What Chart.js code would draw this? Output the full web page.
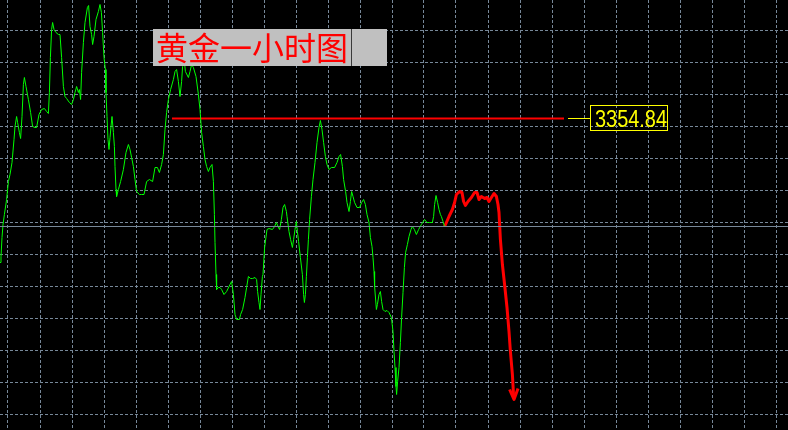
<!DOCTYPE html>
<html>
<head>
<meta charset="utf-8">
<title>黄金一小时图</title>
<script src="https://cdn.jsdelivr.net/npm/chart.js@4.4.1/dist/chart.umd.min.js"></script>
<style>
    html, body { margin: 0; padding: 0; background: #000; }
    canvas { display: block; }
</style>
</head>
<body>
<canvas id="goldChart" width="788" height="430"></canvas>
<script>
// Chart title and the marked resistance level
const chartTitle = "黄金一小时图";
const levelPrice = 3354.84;
const bidPrice = 3300.84;

// Visible window: bars (hours) on x, price on y
const barRange = [0, 394];
const priceRange = [3199.09, 3414.09];

// Hourly close line: [bar, price]
const goldHistory = [
    [0, 3282.84], [0.5, 3285.84], [1, 3295.34], [1.5, 3301.84], [2.2, 3306.84],
    [3.3, 3314.34], [4.2, 3323.34], [5, 3326.84], [6, 3332.84], [7, 3344.34],
    [7.5, 3350.84], [8.3, 3355.84], [8.8, 3352.84], [9.7, 3347.84], [10.3, 3344.84],
    [11, 3355.84], [11.7, 3371.84], [12.2, 3375.34], [13, 3370.84], [14.2, 3364.34],
    [15.3, 3357.84], [16.3, 3350.84], [17.5, 3350.34], [18.3, 3350.34], [19.5, 3356.84],
    [20.8, 3359.34], [22.2, 3359.84], [23.3, 3358.34], [24.2, 3357.34], [24.7, 3367.84],
    [25.2, 3385.34], [25.8, 3399.34], [26.3, 3402.84], [27, 3399.34], [28, 3397.84],
    [29.2, 3396.84], [30, 3396.84], [30.8, 3385.34], [31.7, 3370.84], [32.5, 3365.84],
    [33.3, 3364.84], [34.7, 3362.84], [35.8, 3361.84], [36.7, 3364.34], [37.5, 3367.84],
    [38.3, 3370.84], [39.2, 3367.84], [39.7, 3369.34], [40.3, 3364.34], [40.8, 3377.84],
    [41.7, 3392.84], [42.5, 3402.84], [43.7, 3410.34], [44.3, 3411.34], [45, 3400.84],
    [45.8, 3396.84], [46.3, 3391.84], [47, 3395.84], [48, 3404.34], [49.2, 3408.34],
    [50, 3411.84], [50.7, 3407.84], [51.3, 3397.84], [52, 3385.34], [52.7, 3379.34],
    [53, 3367.84], [53.5, 3355.84], [54, 3344.34], [54.5, 3339.34], [55, 3345.34],
    [55.5, 3350.84], [56, 3355.84], [56.7, 3347.84], [57.2, 3340.84], [57.5, 3330.84],
    [58, 3319.34], [58.3, 3315.84], [59.2, 3319.34], [60.3, 3323.34], [61.7, 3329.34],
    [63, 3337.84], [64.2, 3341.84], [65, 3339.34], [65.8, 3335.34], [66.7, 3330.84],
    [67.5, 3324.34], [68.3, 3318.34], [69.7, 3316.84], [70.8, 3316.84], [72, 3316.84],
    [73.3, 3323.34], [74.7, 3324.34], [76.3, 3323.34], [77.5, 3330.34], [78.7, 3330.34],
    [79.7, 3327.84], [80.8, 3331.84], [81.7, 3336.84], [82.5, 3349.34], [83.3, 3357.84],
    [84.2, 3364.34], [85.3, 3369.34], [86.7, 3374.34], [87.5, 3378.34], [88.3, 3379.34],
    [89.2, 3373.34], [90, 3365.84], [90.8, 3373.34], [91.3, 3380.84], [92, 3385.34],
    [92.7, 3378.34], [94.2, 3375.34], [95, 3378.34], [95.8, 3381.84], [96.7, 3380.34],
    [98, 3375.84], [99.2, 3366.84], [100, 3359.34], [100.8, 3347.84], [101.7, 3340.84],
    [102.5, 3334.34], [103.3, 3330.84], [104.2, 3328.34], [105, 3330.34], [106, 3331.84],
    [106.7, 3323.34], [107.2, 3306.84], [107.5, 3292.84], [108, 3276.84], [108.3, 3269.34],
    [109.2, 3270.34], [110, 3270.34], [110.8, 3269.34], [112, 3266.84], [113.3, 3268.34],
    [115, 3271.84], [115.8, 3273.34], [116.7, 3266.84], [117.5, 3256.84], [118.3, 3254.34],
    [119.7, 3254.34], [120.3, 3256.84], [121.3, 3259.34], [122.5, 3265.34], [123.3, 3270.34],
    [124.2, 3275.84], [125.3, 3274.84], [126.3, 3274.84], [127.5, 3275.34], [128.3, 3274.34],
    [128.8, 3268.34], [129.5, 3262.84], [130, 3259.34], [130.5, 3266.84], [131.2, 3275.84],
    [131.5, 3276.84], [132.3, 3290.34], [133.5, 3299.34], [134.5, 3299.84], [136.2, 3299.34],
    [137.3, 3300.84], [138.2, 3302.84], [139, 3300.84], [139.8, 3299.34], [140.7, 3304.34],
    [141.5, 3310.34], [142.3, 3311.84], [143.2, 3308.34], [143.5, 3305.84], [144.5, 3298.34],
    [145.3, 3294.34], [146.2, 3290.34], [146.8, 3294.34], [147.5, 3299.34], [148.2, 3303.34],
    [148.7, 3298.34], [149.3, 3293.34], [150.2, 3285.34], [151.2, 3276.84], [151.8, 3266.84],
    [152.2, 3262.84], [152.7, 3266.84], [153.2, 3275.84], [153.7, 3285.34], [154.2, 3294.34],
    [154.8, 3304.34], [155.7, 3315.84], [156.5, 3324.34], [157.5, 3332.84], [158.5, 3342.84],
    [159.5, 3350.34], [160.2, 3353.84], [161, 3349.34], [161.8, 3342.84], [162.7, 3335.84],
    [163.5, 3331.84], [164.5, 3329.34], [165.7, 3330.34], [167.3, 3330.34], [168.5, 3332.84],
    [169.5, 3335.84], [170.3, 3336.84], [171.2, 3330.84], [171.8, 3324.34], [172.8, 3318.34],
    [173.5, 3312.84], [174.5, 3308.34], [175.2, 3313.34], [175.8, 3318.34], [176.5, 3315.84],
    [177.3, 3312.84], [178.5, 3310.34], [179.8, 3310.34], [180.8, 3312.84], [181.8, 3314.34],
    [182.7, 3311.84], [183.5, 3306.84], [184.5, 3302.84], [185.2, 3295.34], [186, 3290.84],
    [186.5, 3285.34], [187, 3278.34], [187.3, 3270.84], [188.2, 3259.34], [188.7, 3261.84],
    [189.5, 3266.84], [190.2, 3268.34], [190.8, 3263.34], [191.5, 3259.34], [192.5, 3258.34],
    [193.5, 3258.84], [194.5, 3257.84], [195.7, 3255.34], [196.5, 3248.34], [197, 3238.34],
    [197.5, 3230.34], [198, 3220.84], [198.3, 3216.84], [198.8, 3223.34], [199.5, 3230.34],
    [200.2, 3242.84], [200.8, 3255.34], [201.5, 3267.84], [202.2, 3280.34], [202.8, 3287.84],
    [203.7, 3291.84], [204.5, 3295.84], [205.5, 3299.34], [206.2, 3300.84], [207.2, 3299.34],
    [208.2, 3296.84], [209.3, 3299.34], [210.7, 3301.84], [212.3, 3304.34], [213.5, 3302.84],
    [214.8, 3302.84], [216.2, 3302.84], [216.8, 3305.84], [217.3, 3311.84], [218, 3316.34],
    [218.8, 3312.84], [219.5, 3309.34], [220.2, 3306.84], [220.7, 3305.84], [221.5, 3303.34],
    [222.3, 3300.84]
];

// Hand-drawn forecast path (red) and its arrow head: [bar, price]
const forecastPath = [
    [222.3, 3300.84], [223.2, 3302.84], [224.5, 3305.84], [226.2, 3309.34], [227.3, 3312.84],
    [228.2, 3316.84], [229.8, 3318.34], [231, 3317.84], [231.8, 3313.34], [232.7, 3311.34],
    [234, 3313.34], [235.7, 3315.34], [237.3, 3317.84], [238.5, 3317.84], [239.5, 3314.34],
    [240.7, 3315.84], [242.3, 3314.84], [243.5, 3315.34], [244.5, 3313.34], [245.7, 3315.34],
    [247, 3317.34], [248.2, 3315.84], [249, 3311.84], [249.5, 3307.84], [250.2, 3294.34],
    [251.2, 3281.84], [252.3, 3271.84], [253.5, 3260.34], [254.5, 3248.34], [255.2, 3238.34],
    [256.2, 3226.84], [256.8, 3215.84]
];
const arrowHead = [[254.8, 3219.34], [257, 3214.34], [259, 3219.84]];

// Where the level line and its price tag sit along x
const levelSpan = [86, 282];
const tagLeader = [284, 295];

// grid every 16 bars / 16 price points, like the terminal's grid
const gridBars = [];
for (let b = 4; b <= barRange[1]; b += 16) gridBars.push(b);
const gridPrices = [];
for (let p = 3398.84; p >= priceRange[0]; p -= 16) gridPrices.push(p);

const toPoints = (pairs) => pairs.map(([x, y]) => ({ x, y }));

// Title box + price tag drawn on top
const overlayPlugin = {
    id: "overlay",
    afterDraw(chart) {
        const { ctx, scales } = chart;

        // title box
        ctx.save();
        ctx.fillStyle = "#c0c0c0";
        ctx.fillRect(153, 29, 234, 37);
        ctx.fillStyle = "#3a3a3a";
        ctx.fillRect(351, 29, 1, 37);
        ctx.fillStyle = "#ff0000";
        ctx.font = '32px "Noto Sans CJK SC", sans-serif';
        ctx.textBaseline = "middle";
        ctx.fillText(chartTitle, 156, 48);
        ctx.restore();

        // price tag
        const yPx = Math.floor(scales.y.getPixelForValue(levelPrice));
        const left = Math.round(scales.x.getPixelForValue(tagLeader[1]));
        ctx.save();
        ctx.strokeStyle = "#ffff00";
        ctx.lineWidth = 1;
        ctx.strokeRect(left + 0.5, yPx - 12.5, 77, 25);
        ctx.fillStyle = "#ffff00";
        ctx.font = '24px "Liberation Sans Narrow", "Liberation Sans", sans-serif';
        ctx.textBaseline = "alphabetic";
        const label = levelPrice.toFixed(2);
        const w = ctx.measureText(label).width;
        const scaleX = w > 72 ? 72 / w : 1;
        ctx.translate(left + 5, yPx + 9);
        ctx.scale(scaleX, 1);
        ctx.fillText(label, 0, 0);
        ctx.restore();
    },
};

const ctx = document.getElementById("goldChart").getContext("2d");
const goldChart = new Chart(ctx, {
    type: "line",
    data: {
        datasets: [
            {
                // bid line
                data: toPoints([[barRange[0], bidPrice], [barRange[1], bidPrice]]),
                borderColor: "#778899",
                borderWidth: 1,
            },
            {
                data: toPoints(goldHistory),
                borderColor: "#00ff00",
                borderWidth: 1,
            },
            {
                data: toPoints([[levelSpan[0], levelPrice], [levelSpan[1], levelPrice]]),
                borderColor: "#ff0000",
                borderWidth: 2,
            },
            {
                data: toPoints([[tagLeader[0], levelPrice], [tagLeader[1], levelPrice]]),
                borderColor: "#ffff00",
                borderWidth: 1,
            },
            {
                data: toPoints(forecastPath),
                borderColor: "#ff0000",
                borderWidth: 3,
                borderJoinStyle: "round",
            },
            {
                data: toPoints(arrowHead),
                borderColor: "#ff0000",
                borderWidth: 3,
                borderJoinStyle: "round",
            },
        ],
    },
    options: {
        responsive: false,
        animation: false,
        devicePixelRatio: 1,
        events: [],
        layout: { padding: 0 },
        elements: {
            point: { radius: 0 },
            line: { tension: 0, fill: false },
        },
        plugins: {
            legend: { display: false },
            tooltip: { enabled: false },
        },
        scales: {
            x: {
                type: "linear",
                min: barRange[0],
                max: barRange[1],
                afterBuildTicks: (scale) => {
                    scale.ticks = gridBars.map((v) => ({ value: v }));
                },
                ticks: { display: false },
                grid: { color: "#778899", drawTicks: false, lineWidth: 1 },
                border: { display: false, dash: [3, 2] },
            },
            y: {
                type: "linear",
                min: priceRange[0],
                max: priceRange[1],
                afterBuildTicks: (scale) => {
                    scale.ticks = gridPrices.map((v) => ({ value: v }));
                },
                ticks: { display: false },
                grid: { color: "#778899", drawTicks: false, lineWidth: 1 },
                border: { display: false, dash: [3, 2] },
            },
        },
    },
    plugins: [overlayPlugin],
});
</script>
</body>
</html>
